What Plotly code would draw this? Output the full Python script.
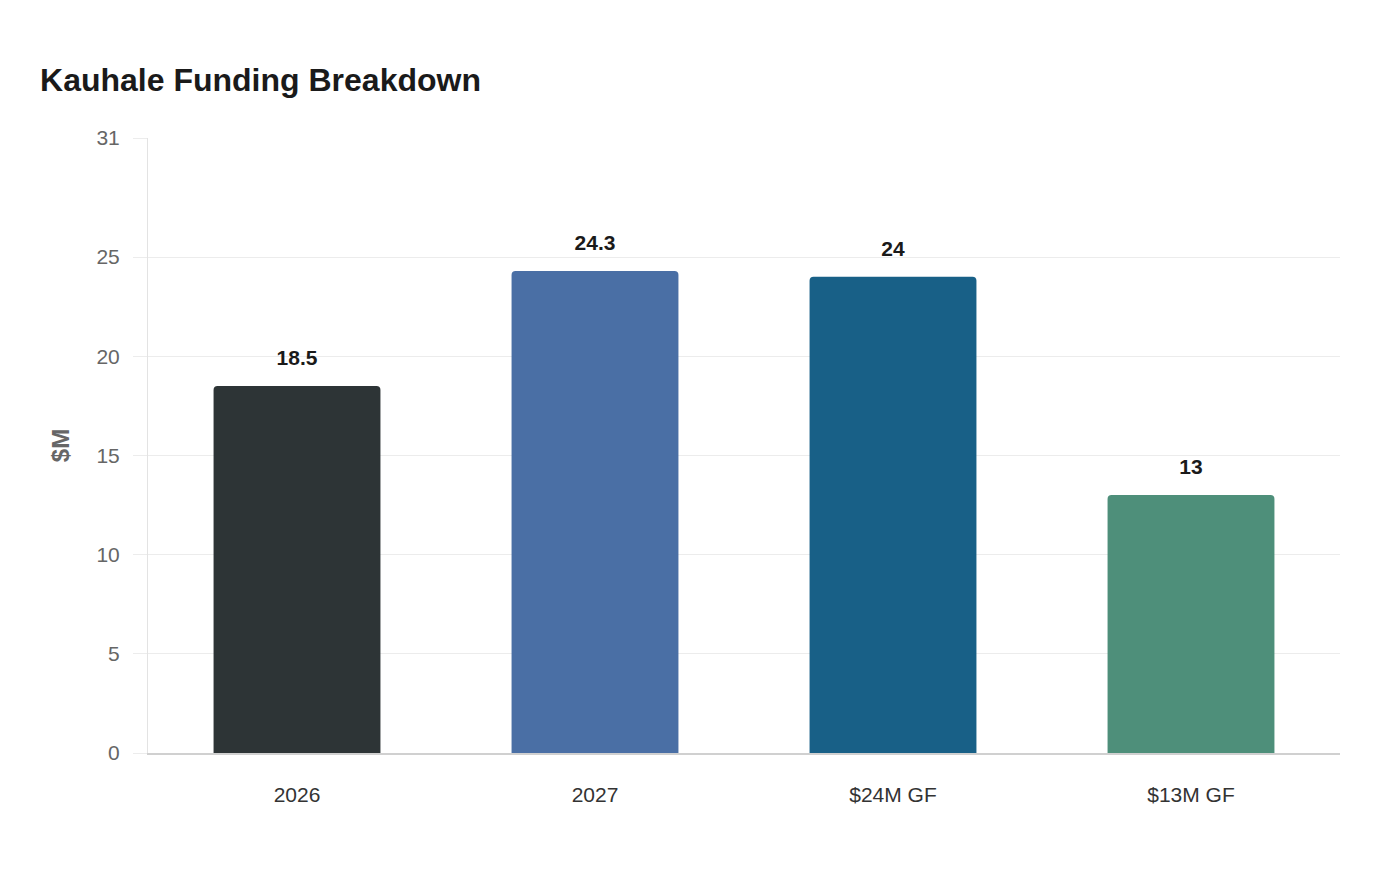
import plotly.graph_objects as go

# funding data ($M)
categories = ["2026", "2027", "$24M GF", "$13M GF"]
values = [18.5, 24.3, 24, 13]
value_labels = ["18.5", "24.3", "24", "13"]
bar_colors = ["#2d3436", "#4a6fa5", "#186087", "#4e8f7a"]
y_ticks = [0, 5, 10, 15, 20, 25, 31]

FONT = "Liberation Sans, Arial, sans-serif"

fig = go.Figure()
fig.add_trace(go.Bar(
    x=categories,
    y=values,
    marker=dict(color=bar_colors, line=dict(width=0)),
    hoverinfo="x+y",
))
# value labels above the bars (invisible marker pushes the text up)
fig.add_trace(go.Scatter(
    x=categories,
    y=values,
    mode="markers+text",
    text=[f"<b>{v}</b>" for v in value_labels],
    textposition="top center",
    textfont=dict(family=FONT, size=21, color="#1a1a1a"),
    marker=dict(size=24, opacity=0),
    hoverinfo="skip",
))

fig.update_layout(
    width=1400,
    height=880,
    paper_bgcolor="white",
    plot_bgcolor="white",
    font=dict(family=FONT),
    title=dict(text="<b>Kauhale Funding Breakdown</b>", x=0.0229, xanchor="left",
               y=0.918, yanchor="middle", font=dict(size=32, color="#1a1a1a")),
    margin=dict(l=140, r=68, t=130, b=135),
    bargap=0.44,
    barcornerradius=4,
    showlegend=False,
)
fig.update_xaxes(
    type="category",
    showgrid=False,
    showline=True, linecolor="#d0d0d0", linewidth=1.5,
    ticks="", tickfont=dict(size=21, color="#333333"),
    ticklabelstandoff=22,
)
fig.update_yaxes(
    range=[0, 31],
    tickvals=y_ticks,
    showgrid=True, gridcolor="#ececec", gridwidth=1,
    showline=True, linecolor="#e3e3e3", linewidth=1,
    zeroline=False,
    ticks="outside", ticklen=14, tickcolor="#ececec",
    tickfont=dict(size=21, color="#666666"),
    ticklabelstandoff=9,
    title=dict(text="<b>$M</b>", font=dict(size=24, color="#666666"), standoff=20),
)

fig.write_html("out.html")
